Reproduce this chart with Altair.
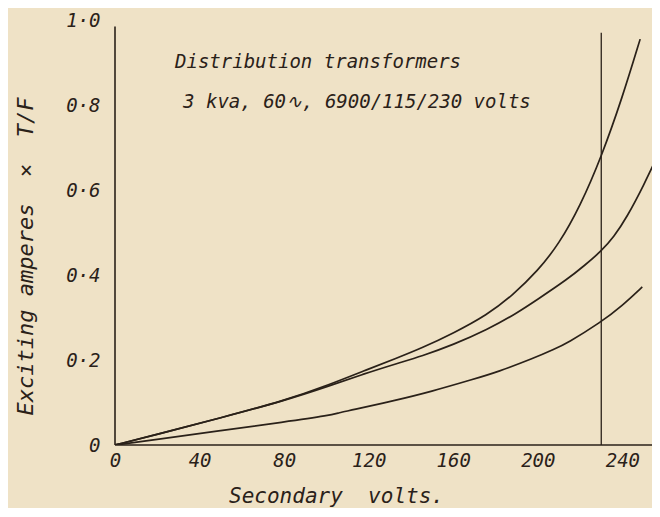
import altair as alt
import pandas as pd

# ---- data ----
top_v = [0, 20, 50, 80, 102, 117.5, 133.5, 145, 160, 176, 188, 200, 210, 220, 230, 240, 248.4]
top_a = [0, 0.025, 0.064, 0.104, 0.143, 0.174, 0.205, 0.228, 0.263, 0.306, 0.352, 0.410, 0.473, 0.562, 0.677, 0.818, 0.955]

mid_v = [0, 20, 50, 80, 102, 117.5, 133.5, 145, 160, 176, 190, 200, 214, 222, 230, 236, 242, 250, 258]
mid_a = [0, 0.025, 0.064, 0.104, 0.140, 0.167, 0.192, 0.209, 0.236, 0.271, 0.310, 0.343, 0.390, 0.422, 0.456, 0.490, 0.535, 0.610, 0.695]

bot_v = [0, 20, 50, 80, 102, 106, 111, 133.5, 149, 169.7, 181, 198, 207.6, 214, 229.6, 240, 249.4]
bot_a = [0, 0.013, 0.034, 0.054, 0.070, 0.076, 0.081, 0.106, 0.125, 0.155, 0.172, 0.204, 0.225, 0.240, 0.288, 0.328, 0.372]

rated_volts = [230]
rated_top = [0.97]
x_ticks = [0, 40, 80, 120, 160, 200, 240]
y_ticks = [0, 0.2, 0.4, 0.6, 0.8, 1.0]

note_lines = ["Distribution transformers", "3 kva, 60\u223f, 6900/115/230 volts"]
note_x = [28.4, 32.2]
note_y = [0.901, 0.807]

INK = "#2a2119"
BG = "#efe2c6"
FONT = "DejaVu Sans Mono"

rows = []
for name, vs, amps in [("a", top_v, top_a), ("b", mid_v, mid_a), ("c", bot_v, bot_a)]:
    for v, a in zip(vs, amps):
        rows.append({"curve": name, "volts": v, "amps": a})
curves_df = pd.DataFrame(rows)

X_DOMAIN = [0, 254]
Y_DOMAIN = [0, 1.0]

xs = alt.Scale(domain=X_DOMAIN, nice=False, zero=False)
ys = alt.Scale(domain=Y_DOMAIN, nice=False, zero=False)

label_expr_y = "datum.value == 0 ? '0' : replace(format(datum.value, '.1f'), '.', '\u00b7')"

base_axes = alt.Chart(pd.DataFrame({"volts": [0], "amps": [0]})).mark_point(opacity=0).encode(
    x=alt.X("volts:Q", scale=xs,
            axis=alt.Axis(values=x_ticks, domain=False, ticks=False, tickSize=0, grid=False,
                          labelPadding=6, labelFontSize=19, labelFont=FONT, labelFontStyle="italic",
                          labelColor=INK, labelFlush=False,
                          title="Secondary\u00a0\u00a0volts.", titleFont=FONT, titleFontStyle="italic",
                          titleFontWeight="normal", titleFontSize=21, titleColor=INK,
                          titleX=221, titleY=51, titleAlign="center", titleBaseline="middle")),
    y=alt.Y("amps:Q", scale=ys,
            axis=alt.Axis(values=y_ticks, domain=False, ticks=False, tickSize=0, grid=False,
                          labelPadding=15, labelFontSize=19, labelFont=FONT, labelFontStyle="italic",
                          labelColor=INK, labelExpr=label_expr_y, labelFlush=False,
                          title="Exciting\u00a0amperes\u00a0\u00a0\u00d7\u00a0\u00a0T/F", titleFont=FONT,
                          titleFontStyle="italic", titleFontWeight="normal", titleFontSize=22,
                          titleColor=INK, titleAngle=270, titleX=-90, titleY=236,
                          titleAlign="center", titleBaseline="middle")),
)

# axis lines
yaxis_line = alt.Chart(pd.DataFrame({"v": [0], "a0": [0], "a1": [0.985]})).mark_rule(
    color=INK, strokeWidth=1.6).encode(
    x=alt.X("v:Q", scale=xs), y=alt.Y("a0:Q", scale=ys), y2="a1:Q")
xaxis_line = alt.Chart(pd.DataFrame({"a": [0], "v0": [0], "v1": [X_DOMAIN[1]]})).mark_rule(
    color=INK, strokeWidth=1.6).encode(
    y=alt.Y("a:Q", scale=ys), x=alt.X("v0:Q", scale=xs), x2="v1:Q")

rated_line = alt.Chart(pd.DataFrame({"v": rated_volts, "a0": [0], "a1": rated_top})).mark_rule(
    color=INK, strokeWidth=1.3).encode(
    x=alt.X("v:Q", scale=xs), y=alt.Y("a0:Q", scale=ys), y2="a1:Q")

lines = alt.Chart(curves_df).mark_line(color=INK, strokeWidth=1.7, interpolate="basis", clip=True).encode(
    x=alt.X("volts:Q", scale=xs),
    y=alt.Y("amps:Q", scale=ys),
    detail="curve:N",
)

notes = alt.Chart(pd.DataFrame({"t": note_lines, "x": note_x, "y": note_y})).mark_text(
    align="left", baseline="middle", font=FONT, fontStyle="italic", fontSize=19, color=INK).encode(
    x=alt.X("x:Q", scale=xs), y=alt.Y("y:Q", scale=ys), text="t:N")

chart = alt.layer(base_axes, yaxis_line, xaxis_line, rated_line, lines, notes).properties(
    width=537, height=425,
    padding={"left": 107, "top": 12, "right": 0, "bottom": 63},
    autosize=alt.AutoSizeParams(type="none"),
    background=BG,
).configure_view(stroke=None)

chart.save("out.html", embed_options={"renderer": "svg", "actions": False})
